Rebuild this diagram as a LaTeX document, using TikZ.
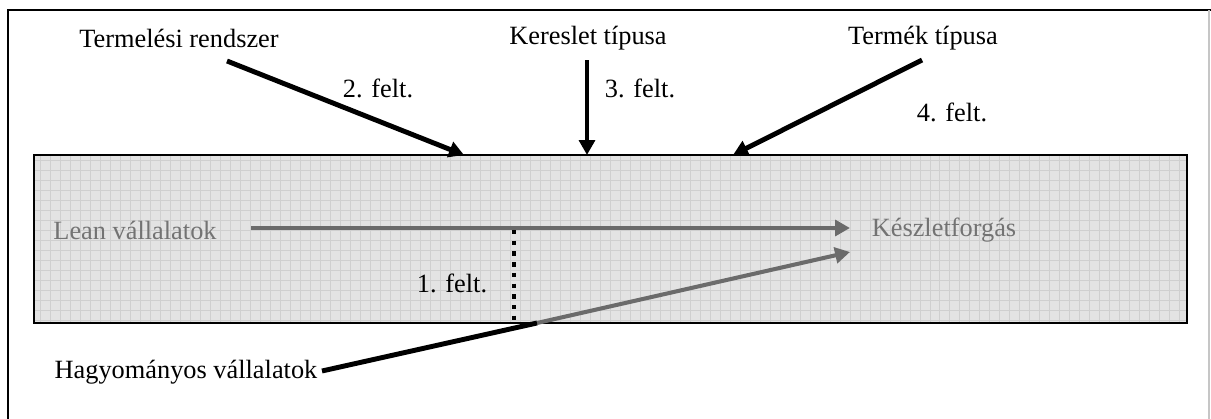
\documentclass[tikz,border=0pt]{standalone}
\usepackage{fontspec}
\setmainfont{Liberation Serif}
\usetikzlibrary{arrows.meta}
\tikzset{
  lbl/.style={font=\fontsize{15}{18}\selectfont, inner sep=0pt},
  glbl/.style={lbl, text=black!55},
  blkarrow/.style={line width=2.8pt, -{Triangle[length=8.5pt,width=9pt]}},
  gryarrow/.style={line width=2.3pt, draw=black!58, -{Triangle[length=8.5pt,width=9pt]}},
  blkline/.style={line width=2.8pt}
}
\begin{document}
\begin{tikzpicture}[x=0.02cm,y=-0.02cm]
                \useasboundingbox (0,0) rectangle (1211,419);
                \draw[line width=1.2pt] (1211,10) -- (8,10) -- (8,419);
                \draw[gray!45, line width=0.7pt] (1209,10) -- (1209,419);
                \fill[gray!22] (34,155) rectangle (1187,323);
                \begin{scope}
                \clip (34,155) rectangle (1187,323);
                \draw[gray!38, line width=0.35pt, step=0.2cm] (30,150) grid (1190,330);
                \end{scope}
                \draw[line width=1.5pt] (34,155) rectangle (1187,323);
                \node[lbl] (prod) at (179,38) {Termelési rendszer};
                \node[lbl] (dem) at (588,38) {Kereslet típusa};
                \node[lbl] (typ) at (923,38) {Termék típusa};
                \node[lbl] (c2) at (378,88) {2. felt.};
                \node[lbl] (c3) at (640,88) {3. felt.};
                \node[lbl] (c4) at (952,112) {4. felt.};
                \node[lbl] (c1) at (452,283) {1. felt.};
                \node[glbl] (lean) at (135,230) {Lean vállalatok};
                \node[glbl] (turn) at (944,230) {Készletforgás};
                \node[lbl] (trad) at (186,372) {Hagyományos vállalatok};
                \coordinate (p1) at (227,61); \coordinate (t1) at (464,155);
                \coordinate (p2) at (587,60); \coordinate (t2) at (587,155);
                \coordinate (p3) at (922,60); \coordinate (t3) at (733,155);
                \coordinate (l0) at (251,228); \coordinate (l1) at (850,228);
                \coordinate (h0) at (322,371); \coordinate (hb) at (537,323); \coordinate (h1) at (850,252);
                \draw[blkarrow] (p1) -- (t1);
                \draw[blkarrow] (p2) -- (t2);
                \draw[blkarrow] (p3) -- (t3);
                \draw[gryarrow] (l0) -- (l1);
                \draw[gryarrow] (hb) -- (h1);
                \draw[blkline] (h0) -- (hb);
                \draw[line width=2.5pt, dash pattern=on 2.5pt off 3.6pt] (514,230) -- (514,321);
            \end{tikzpicture}
\end{document}
